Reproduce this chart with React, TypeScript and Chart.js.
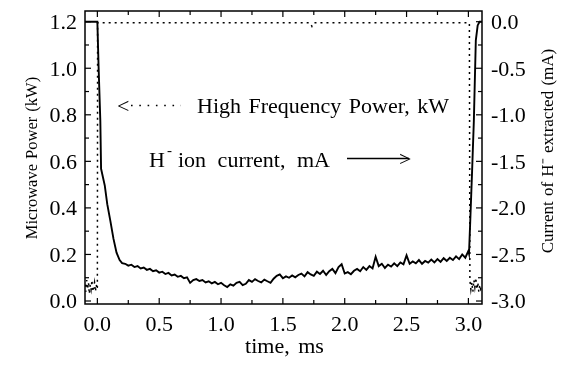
import React, { useEffect, useRef } from "react";
import { Chart, registerables } from "chart.js";

Chart.register(...registerables);

// ---- data ----
const timeTicks = [0, 0.5, 1.0, 1.5, 2.0, 2.5, 3.0];
const timeMinor = [0.25, 0.75, 1.25, 1.75, 2.25, 2.75];
const powerTicks = [0, 0.2, 0.4, 0.6, 0.8, 1.0, 1.2];
const powerMinor = [0.1, 0.3, 0.5, 0.7, 0.9, 1.1];
const currentTicks = [-3.0, -2.5, -2.0, -1.5, -1.0, -0.5, 0];
const currentMinor = [-2.75, -2.25, -1.75, -1.25, -0.75, -0.25];

// High frequency (microwave) power, kW (dotted)
const powerTime = [
  -0.1, -0.093, -0.086, -0.079, -0.072, -0.065, -0.058, -0.051, -0.044, -0.037,
  -0.03, -0.023, -0.016, -0.009, -0.003, 0.0, 0.002, 0.5, 1.0, 1.5, 1.72, 1.735,
  1.75, 2.0, 2.5, 3.008, 3.012, 3.02, 3.028, 3.036, 3.044, 3.052, 3.06, 3.068,
  3.076, 3.084, 3.092, 3.1, 3.11,
];
const powerKW = [
  0.07, 0.04, 0.09, 0.05, 0.08, 0.03, 0.07, 0.05, 0.09, 0.04,
  0.06, 0.08, 0.04, 0.07, 0.05, 0.06, 1.195, 1.195, 1.195, 1.195, 1.195, 1.18,
  1.195, 1.195, 1.195, 1.195, 0.09, 0.05, 0.08, 0.04, 0.09, 0.06, 0.1, 0.05,
  0.08, 0.04, 0.07, 0.05, 0.06,
];

// H- ion current, mA (solid)
const currentTime = [
  -0.1, 0.0, 0.01, 0.024, 0.03, 0.06, 0.08, 0.105, 0.13, 0.155, 0.18,
  0.2, 0.225, 0.25, 0.275, 0.3, 0.325, 0.35, 0.375, 0.4, 0.425, 0.45, 0.475,
  0.5, 0.525, 0.55, 0.575, 0.6, 0.625, 0.65, 0.675, 0.7, 0.725, 0.75, 0.775,
  0.8, 0.825, 0.85, 0.875, 0.9, 0.925, 0.95, 0.975, 1.0, 1.025, 1.05, 1.075,
  1.1, 1.125, 1.15, 1.175, 1.2, 1.225, 1.25, 1.275, 1.3, 1.325, 1.35, 1.375,
  1.4, 1.425, 1.45, 1.475, 1.5, 1.525, 1.55, 1.575, 1.6, 1.625, 1.65, 1.675,
  1.7, 1.725, 1.75, 1.775, 1.8, 1.825, 1.85, 1.875, 1.9, 1.925, 1.95, 1.975,
  2.0, 2.025, 2.05, 2.075, 2.1, 2.125, 2.15, 2.175, 2.2, 2.225, 2.25, 2.275,
  2.3, 2.325, 2.35, 2.375, 2.4, 2.425, 2.45, 2.475, 2.5, 2.525, 2.55, 2.575,
  2.6, 2.625, 2.65, 2.675, 2.7, 2.725, 2.75, 2.775, 2.8, 2.825, 2.85, 2.875,
  2.9, 2.925, 2.95, 2.975, 3.0, 3.005, 3.015, 3.03, 3.044, 3.06, 3.075, 3.09, 3.11,
];
const currentMA = [
  0, 0, -0.49, -1.07, -1.58, -1.76, -1.96, -2.14, -2.33, -2.48, -2.56,
  -2.593, -2.6, -2.62, -2.61, -2.635, -2.625, -2.65, -2.64, -2.665, -2.655, -2.68, -2.67,
  -2.695, -2.685, -2.71, -2.698, -2.725, -2.715, -2.74, -2.73, -2.755, -2.745, -2.805, -2.775,
  -2.765, -2.785, -2.775, -2.8, -2.788, -2.81, -2.795, -2.82, -2.805, -2.83, -2.85, -2.82,
  -2.835, -2.805, -2.795, -2.83, -2.815, -2.775, -2.795, -2.765, -2.785, -2.8, -2.77, -2.788,
  -2.805, -2.76, -2.73, -2.715, -2.755, -2.735, -2.75, -2.725, -2.745, -2.72, -2.705, -2.735,
  -2.69, -2.715, -2.73, -2.685, -2.71, -2.675, -2.72, -2.68, -2.655, -2.7, -2.635, -2.605,
  -2.705, -2.69, -2.712, -2.675, -2.655, -2.68, -2.635, -2.665, -2.625, -2.65, -2.525, -2.625,
  -2.6, -2.645, -2.61, -2.63, -2.595, -2.625, -2.585, -2.605, -2.51, -2.6, -2.575, -2.595,
  -2.56, -2.6, -2.57, -2.588, -2.555, -2.585, -2.55, -2.58, -2.54, -2.57, -2.535, -2.56,
  -2.52, -2.55, -2.5, -2.535, -2.4625, -2.49, -2.14, -1.6, -1.07, -0.2, -0.04, 0, 0,
];

const FONT = '"Liberation Serif", "Times New Roman", serif';

const framePlugin = {
  id: "frame",
  afterDraw(chart: any) {
    const { ctx, chartArea: a, scales } = chart;
    const sx = scales.x;
    const sy = scales.y;
    const sy1 = scales.y1;
    ctx.save();
    ctx.strokeStyle = "#000";
    ctx.fillStyle = "#000";
    ctx.lineWidth = 1.5;
    ctx.strokeRect(a.left, a.top, a.right - a.left, a.bottom - a.top);

    ctx.lineWidth = 1.2;
    const seg = (x0: number, y0: number, x1: number, y1: number) => {
      ctx.beginPath();
      ctx.moveTo(x0, y0);
      ctx.lineTo(x1, y1);
      ctx.stroke();
    };
    const MAJ = 6;
    const MIN = 4;
    timeTicks.forEach((t) => {
      const p = sx.getPixelForValue(t);
      seg(p, a.bottom, p, a.bottom - MAJ);
      seg(p, a.top, p, a.top + MAJ);
    });
    timeMinor.forEach((t) => {
      const p = sx.getPixelForValue(t);
      seg(p, a.bottom, p, a.bottom - MIN);
      seg(p, a.top, p, a.top + MIN);
    });
    powerTicks.forEach((v) => {
      const p = sy.getPixelForValue(v);
      seg(a.left, p, a.left + MAJ, p);
    });
    powerMinor.forEach((v) => {
      const p = sy.getPixelForValue(v);
      seg(a.left, p, a.left + MIN, p);
    });
    currentTicks.forEach((v) => {
      const p = sy1.getPixelForValue(v);
      seg(a.right, p, a.right - MAJ, p);
    });
    currentMinor.forEach((v) => {
      const p = sy1.getPixelForValue(v);
      seg(a.right, p, a.right - MIN, p);
    });

    // tick labels
    ctx.font = `22px ${FONT}`;
    ctx.textBaseline = "alphabetic";
    ctx.textAlign = "center";
    timeTicks.forEach((t) => {
      ctx.fillText(t.toFixed(1), sx.getPixelForValue(t), 331);
    });
    ctx.textAlign = "right";
    powerTicks.forEach((v) => {
      ctx.fillText(v.toFixed(1), a.left - 8, sy.getPixelForValue(v) + 7.4);
    });
    ctx.textAlign = "left";
    currentTicks.forEach((v) => {
      ctx.fillText(v.toFixed(1), a.right + 9, sy1.getPixelForValue(v) + 7.4);
    });

    // axis titles
    (ctx as any).wordSpacing = "3px";
    ctx.textAlign = "center";
    ctx.fillText("time, ms", (a.left + a.right) / 2 + 1, 353);
    (ctx as any).wordSpacing = "1px";
    ctx.save();
    ctx.translate(36.5, 158);
    ctx.rotate(-Math.PI / 2);
    ctx.font = `16.5px ${FONT}`;
    ctx.fillText("Microwave Power (kW)", 0, 0);
    ctx.restore();
    ctx.save();
    ctx.translate(553, 151);
    ctx.rotate(-Math.PI / 2);
    ctx.font = `17px ${FONT}`;
    ctx.fillText("Current of H\u207B extracted (mA)", 0, 0);
    ctx.restore();

    // annotations
    ctx.font = `22px ${FONT}`;
    (ctx as any).wordSpacing = "2px";
    ctx.textAlign = "left";
    ctx.fillText("<", 117, 112.5);
    ctx.save();
    ctx.lineWidth = 1.6;
    ctx.setLineDash([1.6, 6.7]);
    ctx.beginPath();
    ctx.moveTo(131, 105.5);
    ctx.lineTo(181, 105.5);
    ctx.stroke();
    ctx.restore();
    ctx.fillText("High Frequency Power, kW", 197, 112.5);

    ctx.fillText("H", 149, 167);
    ctx.font = `15px ${FONT}`;
    ctx.fillText("-", 167, 155);
    ctx.font = `22px ${FONT}`;
    (ctx as any).wordSpacing = "6px";
    ctx.fillText("ion current, mA", 178, 167);
    ctx.lineWidth = 1.3;
    seg(347, 158.5, 409, 158.5);
    ctx.fillText(">", 399, 166);
    ctx.restore();
  },
};

export default function App() {
  const ref = useRef<HTMLCanvasElement | null>(null);
  useEffect(() => {
    if (!ref.current) return;
    const chart = new Chart(ref.current, {
      type: "line",
      data: {
        datasets: [
          {
            label: "High Frequency Power, kW",
            data: powerTime.map((t, i) => ({ x: t, y: powerKW[i] })),
            yAxisID: "y",
            borderColor: "#000",
            borderWidth: 1.5,
            borderDash: [2, 4],
            pointRadius: 0,
            fill: false,
            tension: 0,
          },
          {
            label: "H- ion current, mA",
            data: currentTime.map((t, i) => ({ x: t, y: currentMA[i] })),
            yAxisID: "y1",
            borderColor: "#000",
            borderWidth: 1.9,
            pointRadius: 0,
            fill: false,
            tension: 0,
          },
        ],
      },
      options: {
        animation: false,
        responsive: false,
        events: [],
        layout: { padding: { top: 11, left: 0, right: 0, bottom: 0 } },
        plugins: { legend: { display: false }, tooltip: { enabled: false } },
        scales: {
          x: {
            type: "linear",
            min: -0.1,
            max: 3.11,
            ticks: { display: false },
            grid: { display: false, drawTicks: false },
            border: { display: false },
            afterFit: (s: any) => {
              s.height = 61;
            },
          },
          y: {
            type: "linear",
            position: "left",
            min: -0.0129,
            max: 1.246,
            ticks: { display: false },
            grid: { display: false, drawTicks: false },
            border: { display: false },
            afterFit: (s: any) => {
              s.width = 85;
            },
          },
          y1: {
            type: "linear",
            position: "right",
            min: -3.032,
            max: 0.115,
            ticks: { display: false },
            grid: { display: false, drawTicks: false },
            border: { display: false },
            afterFit: (s: any) => {
              s.width = 83;
            },
          },
        },
      },
      plugins: [framePlugin],
    } as any);
    return () => chart.destroy();
  }, []);
  return (
    <div style={{ position: "absolute", left: 0, top: 0, width: 565, height: 365, background: "#fff" }}>
      <canvas ref={ref} width={565} height={365} style={{ display: "block" }} />
    </div>
  );
}
